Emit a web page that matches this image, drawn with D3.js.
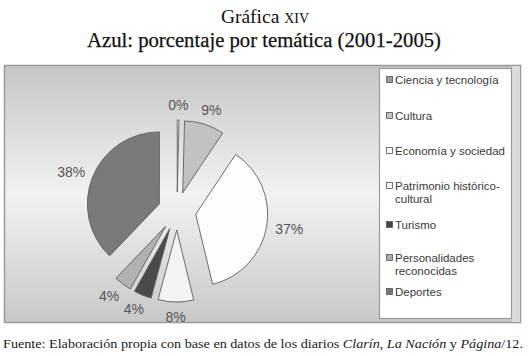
<!DOCTYPE html>
<html>
<head>
<meta charset="UTF-8">
<title>Gráfica XIV</title>
<script src="https://cdn.jsdelivr.net/npm/d3@7"></script>
<style>
  body { margin: 0; background: #fff; }
  svg { display: block; }
</style>
</head>
<body>
<script>
  // Data
  const categories = ['Ciencia y tecnología', 'Cultura', 'Economía y sociedad',
    'Patrimonio histórico-cultural', 'Turismo', 'Personalidades reconocidas', 'Deportes'];
  // legend lines (wrapped like the original)
  const legendLines = [['Ciencia y tecnología'], ['Cultura'], ['Economía y sociedad'],
    ['Patrimonio histórico-', 'cultural'], ['Turismo'], ['Personalidades', 'reconocidas'], ['Deportes']];
  // percentages; the "0%" slice is a thin sliver, so it gets a tiny value
  const values = [0.4, 9, 37, 8, 4, 4, 38];
  const fills = ['#f4f4f4', '#c2c2c2', '#fdfdfd', '#f3f3f3', '#4a4a4a', '#b1b1b1', '#7a7a7a'];
  const legendFills = ['#9a9a9a', '#c2c2c2', '#fdfdfd', '#f3f3f3', '#444444', '#ababab', '#777777'];

  const w = 529, h = 356;

  const svg = d3.select('body').append('svg')
    .attr('width', w)
    .attr('height', h);

  // background gradient of the chart frame
  const grad = svg.append('defs').append('linearGradient')
    .attr('id', 'bg')
    .attr('x1', 0).attr('y1', 0).attr('x2', 0).attr('y2', 1);
  grad.append('stop').attr('offset', '0%').attr('stop-color', '#c6c6c6');
  grad.append('stop').attr('offset', '50%').attr('stop-color', '#f2f2f2');
  grad.append('stop').attr('offset', '100%').attr('stop-color', '#c8c8c8');

  //
  // Titles
  //
  const t1 = svg.append('text')
    .attr('x', 265).attr('y', 23)
    .attr('text-anchor', 'middle')
    .style('font-family', '"Liberation Serif", serif')
    .style('font-size', '19.5px')
    .style('fill', '#111');
  t1.append('tspan').text('Gráfica ');
  t1.append('tspan').style('font-variant', 'small-caps').text('xiv');

  svg.append('text')
    .attr('x', 264).attr('y', 47)
    .attr('text-anchor', 'middle')
    .attr('textLength', 354)
    .attr('lengthAdjust', 'spacingAndGlyphs')
    .style('font-family', '"Liberation Serif", serif')
    .style('font-size', '20px')
    .style('fill', '#111')
    .style('stroke', '#111')
    .style('stroke-width', 0.25)
    .text('Azul: porcentaje por temática (2001-2005)');

  //
  // Frame + legend box
  //
  svg.append('rect')
    .attr('x', 4.5).attr('y', 65.5)
    .attr('width', 516).attr('height', 257)
    .style('fill', 'url(#bg)')
    .style('stroke', '#9a9a9a')
    .style('stroke-width', 1.5);

  svg.append('rect')
    .attr('x', 512).attr('y', 66)
    .attr('width', 8).attr('height', 256)
    .style('fill', '#dcdcdc');

  svg.append('rect')
    .attr('x', 379.5).attr('y', 68.5)
    .attr('width', 132).attr('height', 250)
    .style('fill', '#ffffff')
    .style('stroke', '#9a9a9a')
    .style('stroke-width', 1.2);

  //
  // Pie
  //
  const cx = 177, cy = 211;
  const r = 72, explode = 19;

  const pie = d3.pie().sort(null).value(d => d);
  const arcs = pie(values);
  const arc = d3.arc().innerRadius(0).outerRadius(r);
  const mid = d => (d.startAngle + d.endAngle) / 2;

  const g = svg.append('g').attr('transform', `translate(${cx},${cy})`);

  g.selectAll('path')
    .data(arcs)
    .enter()
    .append('path')
    .attr('d', arc)
    .attr('transform', d => `translate(${Math.sin(mid(d)) * explode},${-Math.cos(mid(d)) * explode})`)
    .style('fill', (d, i) => fills[i])
    .style('stroke', '#5e5e5e')
    .style('stroke-width', 0.9)
    .style('stroke-linejoin', 'round');

  // percentage labels outside each slice
  const labelR = 99;
  g.selectAll('text.pct')
    .data(arcs)
    .enter()
    .append('text')
    .attr('class', 'pct')
    .attr('text-anchor', 'middle')
    .attr('dominant-baseline', 'central')
    .attr('x', d => Math.sin(mid(d)) * labelR + Math.sin(mid(d)) * 15)
    .attr('y', d => -Math.cos(mid(d)) * labelR - Math.cos(mid(d)) * 7)
    .style('font-family', '"Liberation Sans", Arial, sans-serif')
    .style('font-size', '14px')
    .style('fill', '#555')
    .text(d => Math.round(d.data) + '%');

  //
  // Legend
  //
  const legendY = [80, 116, 151, 186, 225, 258, 292];
  const leg = svg.append('g');

  categories.forEach((c, i) => {
    leg.append('rect')
      .attr('x', 386.5).attr('y', legendY[i] - 3.5)
      .attr('width', 6).attr('height', 6)
      .style('fill', legendFills[i])
      .style('stroke', '#555')
      .style('stroke-width', 0.8);

    legendLines[i].forEach((line, j) => {
      leg.append('text')
        .attr('x', 395)
        .attr('y', legendY[i] + j * 13)
        .attr('dominant-baseline', 'central')
        .style('font-family', '"Liberation Sans", Arial, sans-serif')
        .style('font-size', '11.5px')
        .style('fill', '#3a3a3a')
        .text(line);
    });
  });

  //
  // Source note
  //
  const src = svg.append('text')
    .attr('x', 3).attr('y', 348)
    .attr('textLength', 520)
    .attr('lengthAdjust', 'spacingAndGlyphs')
    .style('font-family', '"Liberation Serif", serif')
    .style('font-size', '13.5px')
    .style('fill', '#1a1a1a');
  src.append('tspan').text('Fuente: Elaboración propia con base en datos de los diarios ');
  src.append('tspan').style('font-style', 'italic').text('Clarín');
  src.append('tspan').text(', ');
  src.append('tspan').style('font-style', 'italic').text('La Nación');
  src.append('tspan').text(' y ');
  src.append('tspan').style('font-style', 'italic').text('Página');
  src.append('tspan').text('/12.');
</script>
</body>
</html>
